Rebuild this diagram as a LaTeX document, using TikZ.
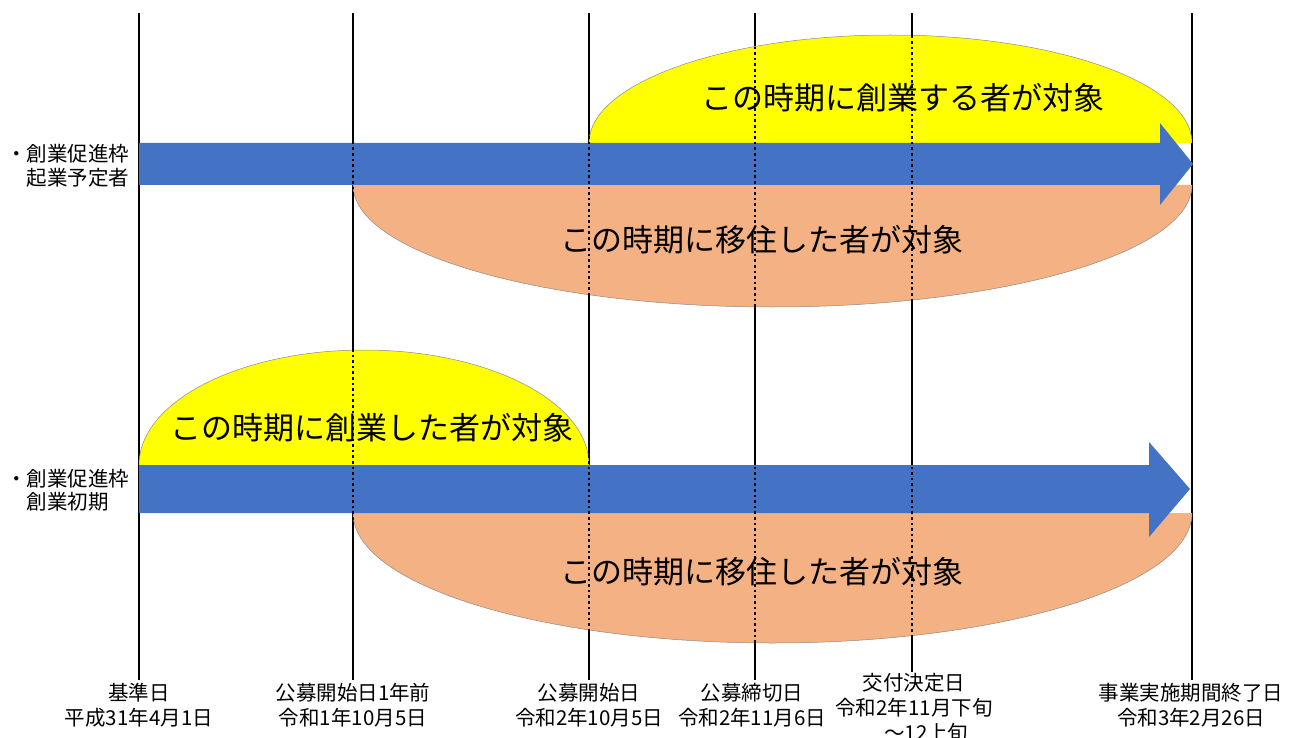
\documentclass[tikz,border=0pt]{standalone}
\usepackage{fontspec}
\setmainfont{Noto Sans CJK JP}
\definecolor{arrblue}{HTML}{4472C4}
\definecolor{peach}{HTML}{F4B183}
\definecolor{yel}{HTML}{FFFF00}
\begin{document}
\begin{tikzpicture}[x=1pt,y=-1pt,
  vline/.style={line width=2.7pt,black},
  dotline/.style={line width=2.7pt,black,dash pattern=on 2.6pt off 3pt},
  edge/.style={line width=0.5pt,draw=black!45},
  bigtxt/.style={font=\fontsize{31}{36}\selectfont,inner sep=0pt},
  sidelbl/.style={font=\fontsize{20.5}{23.5}\selectfont,align=left,anchor=west,inner sep=0pt},
  datelbl/.style={font=\fontsize{20.5}{25}\selectfont,align=center,inner sep=0pt}]
\useasboundingbox (0,0) rectangle (1292,738);
% time coordinates
\foreach \n/\x in {a/139,b/353,c/589,d/755,e/912,f/1192}{
  \coordinate (top\n) at (\x,13);
  \coordinate (bot\n) at (\x,680);
}
\coordinate (botE) at (912,672);
% solid vertical lines
\foreach \n in {a,b,c,d,f}{\draw[vline] (top\n) -- (bot\n);}
\draw[vline] (tope) -- (botE);
% top group
\fill[yel] (589,143) arc[start angle=180,end angle=360,x radius=301.5,y radius=108] -- cycle;
\fill[peach] (353,185) arc[start angle=180,end angle=0,x radius=419.5,y radius=122] -- cycle;
\draw[edge] (589,143) arc[start angle=180,end angle=360,x radius=301.5,y radius=108];
\draw[edge] (353,185) arc[start angle=180,end angle=0,x radius=419.5,y radius=122];
\fill[arrblue] (139,143) -- (1160,143) -- (1160,123) -- (1193,164) -- (1160,205) -- (1160,185) -- (139,185) -- cycle;
% bottom group
\fill[yel] (139,465) arc[start angle=180,end angle=360,x radius=225,y radius=115] -- cycle;
\fill[peach] (353,513) arc[start angle=180,end angle=0,x radius=419.5,y radius=130] -- cycle;
\draw[edge] (139,465) arc[start angle=180,end angle=360,x radius=225,y radius=115];
\draw[edge] (353,513) arc[start angle=180,end angle=0,x radius=419.5,y radius=130];
\fill[arrblue] (139,465) -- (1149,465) -- (1149,442) -- (1190,489) -- (1149,537) -- (1149,513) -- (139,513) -- cycle;
% dotted overlays
\foreach \n in {b,c,d}{\draw[dotline] (top\n) -- (bot\n);}
\draw[dotline] (tope) -- (botE);
% texts in shapes
\node[bigtxt] (t1) at (903,98) {この時期に創業する者が対象};
\node[bigtxt] (t2) at (762,240) {この時期に移住した者が対象};
\node[bigtxt] (t3) at (372,428) {この時期に創業した者が対象};
\node[bigtxt] (t4) at (762,572) {この時期に移住した者が対象};
% side labels
\node[sidelbl] (s1) at (6,166) {・創業促進枠\\\phantom{・}起業予定者};
\node[sidelbl] (s2) at (6,490) {・創業促進枠\\\phantom{・}創業初期};
% date labels
\node[datelbl] (l1) at (139,705) {基準日\\平成31年4月1日};
\node[datelbl] (l2) at (353,705) {公募開始日1年前\\令和1年10月5日};
\node[datelbl] (l3) at (589,705) {公募開始日\\令和2年10月5日};
\node[datelbl] (l4) at (752,705) {公募締切日\\令和2年11月6日};
\node[datelbl] (l5) at (914,708) {交付決定日\\令和2年11月下旬\\\hspace*{1.2em}～12上旬};
\node[datelbl] (l6) at (1191,705) {事業実施期間終了日\\令和3年2月26日};
\end{tikzpicture}
\end{document}
